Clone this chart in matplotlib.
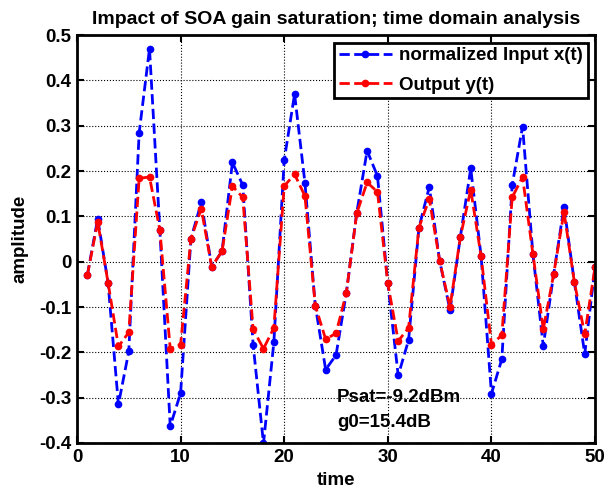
import matplotlib
matplotlib.use("Agg")
import matplotlib.pyplot as plt
import numpy as np

t = np.arange(1, 51)

# normalized input x(t)
x_in = [-0.030, 0.095, -0.046, -0.315, -0.198, 0.284, 0.470, 0.070, -0.363, -0.290,
        0.051, 0.131, -0.011, 0.023, 0.219, 0.169, -0.183, -0.401, -0.178, 0.224,
        0.370, 0.174, -0.097, -0.238, -0.206, -0.068, 0.108, 0.245, 0.189, -0.048,
        -0.251, -0.173, 0.075, 0.165, 0.002, -0.107, 0.055, 0.206, 0.012, -0.291,
        -0.215, 0.169, 0.298, 0.017, -0.186, -0.028, 0.121, -0.045, -0.204, -0.011]

# output y(t)
y_out = [-0.030, 0.088, -0.046, -0.187, -0.156, 0.184, 0.187, 0.070, -0.192, -0.183,
         0.051, 0.117, -0.011, 0.023, 0.167, 0.142, -0.149, -0.192, -0.146, 0.167,
         0.193, 0.145, -0.097, -0.171, -0.158, -0.068, 0.107, 0.175, 0.154, -0.048,
         -0.175, -0.146, 0.075, 0.139, 0.002, -0.100, 0.055, 0.159, 0.012, -0.183,
         -0.162, 0.142, 0.187, 0.017, -0.149, -0.028, 0.110, -0.045, -0.160, -0.011]

plt.rcParams['font.family'] = ['Liberation Sans', 'DejaVu Sans']
plt.rcParams['font.weight'] = 'bold'
fs = 13.5

fig = plt.figure(figsize=(6.06, 4.92), dpi=100)
ax = fig.add_axes([0.127, 0.0996, 0.855, 0.829])

ax.plot(t, x_in, 'b--', marker='.', markersize=9, linewidth=2, label='normalized Input x(t)')
ax.plot(t, y_out, 'r--', marker='.', markersize=9, linewidth=2, label='Output y(t)')

ax.set_xlim(0, 50)
ax.set_ylim(-0.4, 0.5)
ax.set_xticks(np.arange(0, 51, 10))
ax.set_yticks(np.arange(-0.4, 0.51, 0.1))
ax.set_yticklabels(['-0.4', '-0.3', '-0.2', '-0.1', '0', '0.1', '0.2', '0.3', '0.4', '0.5'])
ax.grid(True, color='k', linestyle=':', linewidth=0.8)
ax.tick_params(direction='in', length=5, width=1.5, labelsize=fs, top=True, right=True, pad=4)
for sp in ax.spines.values():
    sp.set_linewidth(2)

ax.set_title('Impact of SOA gain saturation; time domain analysis', fontsize=14, fontweight='bold', pad=8)
ax.set_xlabel('time', fontsize=fs, fontweight='bold', labelpad=5)
ax.set_ylabel('amplitude', fontsize=fs, fontweight='bold', labelpad=8)

ax.text(25.1, -0.30, 'Psat=-9.2dBm', fontsize=fs, fontweight='bold', va='center')
ax.text(25.1, -0.355, 'g0=15.4dB', fontsize=fs, fontweight='bold', va='center')

leg = ax.legend(loc='upper right', fontsize=fs, fancybox=False, framealpha=1,
                edgecolor='k', borderaxespad=0.4, handlelength=2.8,
                borderpad=0.25, labelspacing=0.65, handletextpad=0.4)
leg.get_frame().set_linewidth(2)

fig.savefig('out.png', dpi=100)
